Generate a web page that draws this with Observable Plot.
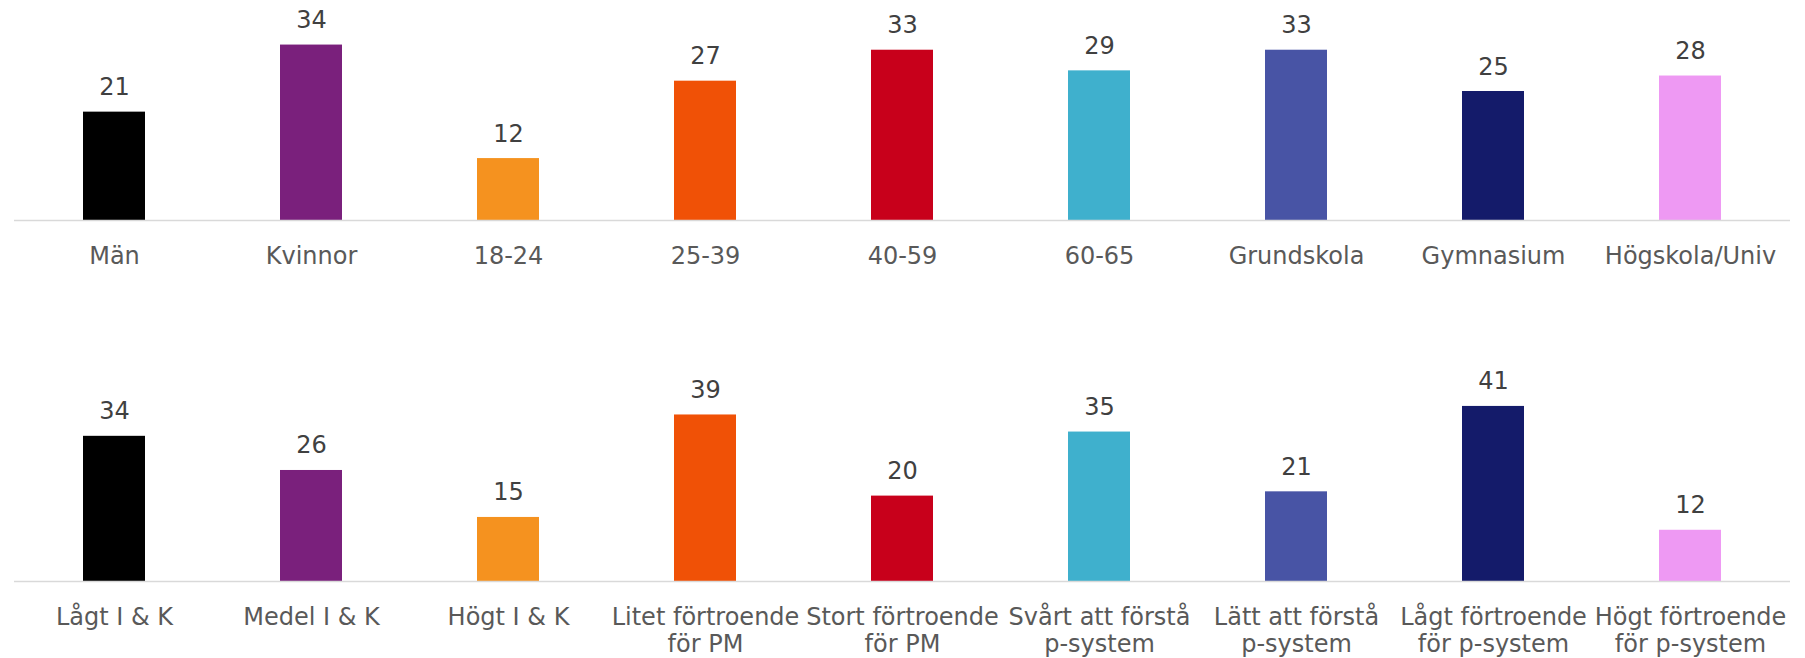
<!DOCTYPE html>
<html>
<head>
<meta charset="utf-8">
<script src="https://cdn.jsdelivr.net/npm/d3@7"></script>
<script src="https://cdn.jsdelivr.net/npm/@observablehq/plot@0.6"></script>
<style>
  html, body { margin: 0; padding: 0; background: #ffffff; }
  #chart svg { display: block; }
</style>
</head>
<body>
<div id="chart"></div>
<script>
// ---- data ----
const topCategories = ["Män", "Kvinnor", "18-24", "25-39", "40-59", "60-65", "Grundskola", "Gymnasium", "Högskola/Univ"];
const topValues = [21, 34, 12, 27, 33, 29, 33, 25, 28];

const bottomCategories = ["Lågt I & K", "Medel I & K", "Högt I & K", "Litet förtroende\nför PM", "Stort förtroende\nför PM", "Svårt att förstå\np-system", "Lätt att förstå\np-system", "Lågt förtroende\nför p-system", "Högt förtroende\nför p-system"];
const bottomValues = [34, 26, 15, 39, 20, 35, 21, 41, 12];

const barColors = ["#000000", "#7a207c", "#f5921f", "#f05106", "#c8001b", "#3fb0cd", "#4854a5", "#141b6a", "#ee99f3"];

const FONT = "Verdana, 'DejaVu Sans', sans-serif";

function makeRow(categories, values, opts) {
  const data = categories.map((c, i) => ({cat: c, value: values[i], color: barColors[i]}));
  return Plot.plot({
    width: 1805,
    height: opts.height,
    marginLeft: 14,
    marginRight: 15,
    marginTop: opts.marginTop,
    marginBottom: opts.marginBottom,
    style: {fontFamily: FONT, background: "#ffffff"},
    x: {domain: categories, type: "band", paddingInner: 0.686, paddingOuter: 0.343, axis: null},
    y: {domain: [0, opts.yMax], axis: null},
    marks: [
      Plot.barY(data, {x: "cat", y: "value", fill: "color"}),
      Plot.ruleY([0], {stroke: "#d9d9d9", strokeWidth: 1.7}),
      Plot.text(data, {
        x: "cat", y: "value", text: d => String(d.value),
        lineAnchor: "bottom", dy: -17,
        fontSize: 24, fill: "#404040", fontFamily: FONT
      }),
      Plot.text(data, {
        x: "cat", y: () => 0, text: "cat",
        lineAnchor: "top", dy: 24, lineHeight: 1.14,
        fontSize: 24, fill: "#595959", fontFamily: FONT
      })
    ]
  });
}

const chart = document.getElementById("chart");
chart.appendChild(makeRow(topCategories, topValues, {height: 300, marginTop: 13.6, marginBottom: 80, yMax: 40}));
chart.appendChild(makeRow(bottomCategories, bottomValues, {height: 358, marginTop: 67.5, marginBottom: 77, yMax: 50}));
</script>
</body>
</html>
